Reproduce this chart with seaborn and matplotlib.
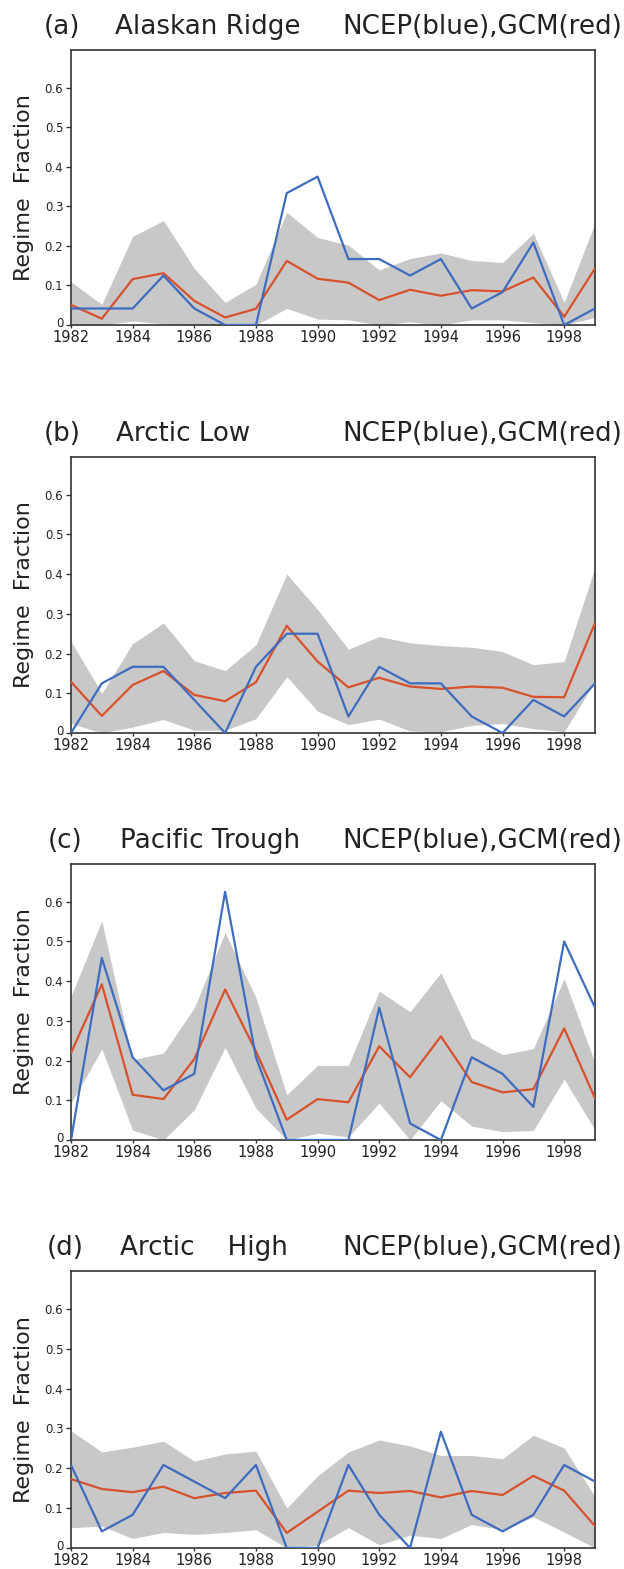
import numpy as np
import pandas as pd
import matplotlib
matplotlib.use("Agg")
import matplotlib.pyplot as plt
import matplotlib.transforms as mtransforms
import seaborn as sns

sns.set_theme(style="white")
plt.rcParams['font.family'] = ['DejaVu Sans']

years = list(range(1982, 2000))

titles_id = ["(a)", "(b)", "(c)", "(d)"]
titles_name = ["Alaskan Ridge", "Arctic Low", "Pacific Trough", "Arctic    High"]
title_tail = "NCEP(blue),GCM(red)"

# Panel (a) Alaskan Ridge
gcm_a = [0.051, 0.016, 0.116, 0.131, 0.061, 0.019, 0.041, 0.162, 0.117, 0.107,
         0.063, 0.089, 0.074, 0.088, 0.085, 0.120, 0.021, 0.143]
ncep_a = [0.0417, 0.0417, 0.0417, 0.125, 0.0417, 0.0, 0.0, 0.3333, 0.375, 0.1667,
          0.1667, 0.125, 0.1667, 0.0417, 0.0833, 0.2083, 0.0, 0.0417]
hi_a = [0.109, 0.052, 0.224, 0.264, 0.143, 0.057, 0.103, 0.285, 0.221, 0.202,
        0.139, 0.168, 0.182, 0.163, 0.158, 0.232, 0.057, 0.258]
lo_a = [0.0, 0.0, 0.010, 0.003, 0.0, 0.0, 0.0, 0.042, 0.015, 0.013,
        0.0, 0.008, 0.0, 0.013, 0.013, 0.006, 0.0, 0.019]

# Panel (b) Arctic Low
gcm_b = [0.129, 0.043, 0.121, 0.156, 0.096, 0.080, 0.128, 0.270, 0.180, 0.115,
         0.139, 0.117, 0.111, 0.117, 0.114, 0.091, 0.090, 0.277]
ncep_b = [0.0, 0.125, 0.1667, 0.1667, 0.0833, 0.0, 0.1667, 0.25, 0.25, 0.0417,
          0.1667, 0.125, 0.125, 0.0417, 0.0, 0.0833, 0.0417, 0.125]
hi_b = [0.231, 0.100, 0.225, 0.277, 0.182, 0.157, 0.222, 0.400, 0.311, 0.211,
        0.243, 0.227, 0.220, 0.216, 0.205, 0.172, 0.180, 0.417]
lo_b = [0.024, 0.0, 0.015, 0.034, 0.007, 0.007, 0.036, 0.142, 0.055, 0.021,
        0.035, 0.005, 0.003, 0.019, 0.024, 0.011, 0.003, 0.130]

# Panel (c) Pacific Trough
gcm_c = [0.219, 0.392, 0.114, 0.103, 0.204, 0.379, 0.223, 0.051, 0.103, 0.095,
         0.236, 0.158, 0.261, 0.146, 0.120, 0.128, 0.281, 0.105]
ncep_c = [0.0, 0.4583, 0.2083, 0.125, 0.1667, 0.625, 0.2083, 0.0, 0.0, 0.0,
          0.3333, 0.0417, 0.0, 0.2083, 0.1667, 0.0833, 0.5, 0.3333]
hi_c = [0.362, 0.552, 0.202, 0.219, 0.333, 0.522, 0.358, 0.114, 0.188, 0.188,
        0.375, 0.323, 0.421, 0.257, 0.215, 0.230, 0.406, 0.194]
lo_c = [0.093, 0.229, 0.025, 0.0, 0.076, 0.233, 0.080, 0.0, 0.017, 0.008,
        0.093, 0.0, 0.099, 0.035, 0.021, 0.024, 0.153, 0.025]

# Panel (d) Arctic High
gcm_d = [0.173, 0.148, 0.140, 0.154, 0.125, 0.138, 0.144, 0.038, 0.091, 0.144,
         0.138, 0.143, 0.127, 0.143, 0.133, 0.181, 0.144, 0.055]
ncep_d = [0.2083, 0.0417, 0.0833, 0.2083, 0.1667, 0.125, 0.2083, 0.0, 0.0, 0.2083,
          0.0833, 0.0, 0.2917, 0.0833, 0.0417, 0.0833, 0.2083, 0.1667]
hi_d = [0.294, 0.241, 0.253, 0.268, 0.218, 0.236, 0.243, 0.100, 0.181, 0.241,
        0.271, 0.256, 0.232, 0.232, 0.224, 0.283, 0.251, 0.129]
lo_d = [0.051, 0.055, 0.024, 0.039, 0.034, 0.039, 0.046, 0.0, 0.007, 0.051,
        0.008, 0.032, 0.024, 0.059, 0.046, 0.078, 0.040, 0.0]

gcm_all = [gcm_a, gcm_b, gcm_c, gcm_d]
ncep_all = [ncep_a, ncep_b, ncep_c, ncep_d]
hi_all = [hi_a, hi_b, hi_c, hi_d]
lo_all = [lo_a, lo_b, lo_c, lo_d]

xticks = list(range(1982, 1999, 2))
yticks = [0, 0.1, 0.2, 0.3, 0.4, 0.5, 0.6]
ytick_labels = ["0", "0.1", "0.2", "0.3", "0.4", "0.5", "0.6"]

W, H = 624, 1569
fig = plt.figure(figsize=(W / 100, H / 100), dpi=100)
fig.patch.set_facecolor("white")

# axes box pixel positions (top, bottom) from top of image
boxes = [(50, 325), (457, 733), (864, 1140), (1271, 1548)]
left_px, right_px = 71, 595
id_x = [44, 44, 48, 47]
name_x = [115, 116, 120, 120]

BLUE = "#3d6cc0"
RED = "#d8512b"
GREY = "#c8c8c8"
tick_font = ['Liberation Sans Narrow', 'DejaVu Sans']

for i in range(4):
    top, bot = boxes[i]
    ax = fig.add_axes([left_px / W, 1 - bot / H, (right_px - left_px) / W, (bot - top) / H])
    df = pd.DataFrame({"year": years, "gcm": gcm_all[i], "ncep": ncep_all[i],
                       "hi": hi_all[i], "lo": lo_all[i]})
    ax.fill_between(df["year"], df["lo"], df["hi"], color=GREY, linewidth=0, zorder=1)
    sns.lineplot(data=df, x="year", y="gcm", ax=ax, color=RED, linewidth=1.6, zorder=3)
    sns.lineplot(data=df, x="year", y="ncep", ax=ax, color=BLUE, linewidth=1.6, zorder=4)
    ax.set_xlim(1982, 1999)
    ax.set_ylim(0, 0.695)
    ax.set_xlabel("")
    ax.set_ylabel("")
    ax.set_xticks(xticks)
    ax.set_xticklabels([str(x) for x in xticks], family=tick_font, fontsize=10.5, color="#222222")
    ax.set_yticks(yticks)
    ylabels = ax.set_yticklabels(ytick_labels, family=tick_font, fontsize=8.5, color="#222222")
    ax.tick_params(axis="x", direction="out", length=2.5, width=1, color="#333333", pad=1.2, bottom=True)
    ax.tick_params(axis="y", direction="out", length=3.5, width=1, color="#333333", pad=2, left=True)
    # nudge the "0" label up slightly so it sits above the first year label
    shift = mtransforms.ScaledTranslation(0, 2.5 / 72, fig.dpi_scale_trans)
    ylabels[0].set_transform(ylabels[0].get_transform() + shift)
    for s in ax.spines.values():
        s.set_color("#333333")
        s.set_linewidth(1.2)
    ax.set_facecolor("white")

    base_y = 1 - (top - 16) / H
    fig.text(id_x[i] / W, base_y, titles_id[i], fontsize=18.8, color="#222222", va="baseline", ha="left")
    fig.text(name_x[i] / W, base_y, titles_name[i], fontsize=18.8, color="#222222", va="baseline", ha="left")
    fig.text(622 / W, base_y, title_tail, fontsize=18.8, color="#222222", va="baseline", ha="right")
    fig.text(24 / W, 1 - ((top + bot) / 2) / H, "Regime  Fraction", fontsize=16, color="#222222",
             rotation=90, va="center", ha="center")

fig.savefig("out.png", dpi=100, facecolor="white")
